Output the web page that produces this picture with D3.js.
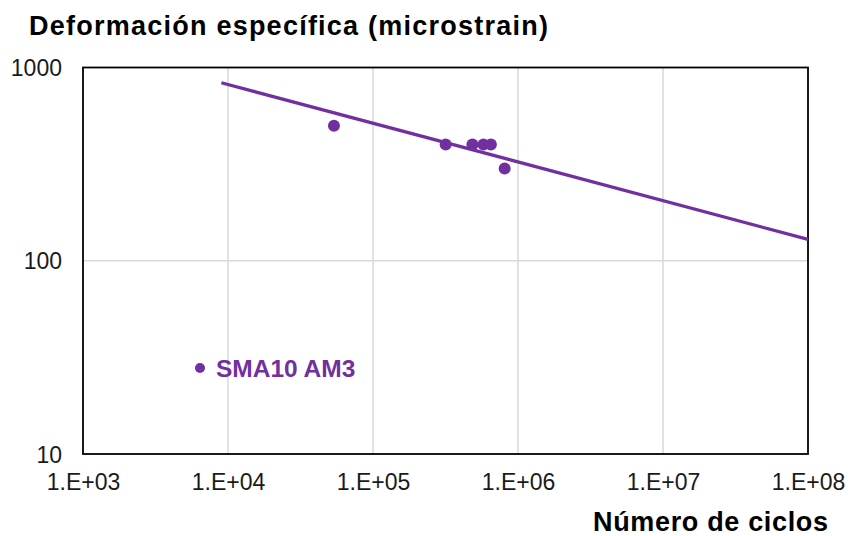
<!DOCTYPE html>
<html><head><meta charset="utf-8">
<script src="https://cdn.jsdelivr.net/npm/d3@7"></script>
<style>
html,body{margin:0;padding:0;background:#fff;}
svg{display:block;font-family:"Liberation Sans",Arial,sans-serif;}
</style></head>
<body>
<svg id="chart" width="848" height="536"></svg>
<script>
// ---- data ----
const cycles = [53800, 317000, 485000, 578000, 650000, 809000];
const strain = [500, 400, 400, 400, 400, 300];
const trendCycles = [9000, 1e8];
const trendStrain = [834, 129];
const xTickValues = [1e3, 1e4, 1e5, 1e6, 1e7, 1e8];
const xTickLabels = ["1.E+03", "1.E+04", "1.E+05", "1.E+06", "1.E+07", "1.E+08"];
const yTickValues = [10, 100, 1000];
const yTickLabels = ["10", "100", "1000"];
const seriesName = "SMA10 AM3";
const titleText = "Deformación específica (microstrain)";
const xTitleText = "Número de ciclos";

const purple = "#7030A0";
const svg = d3.select("#chart");
const L = 83, R = 808, T = 67.5, B = 454;
const x = d3.scaleLog().domain([1e3, 1e8]).range([L, R]);
const y = d3.scaleLog().domain([10, 1000]).range([B, T]);

// grid
const g = svg.append("g");
g.selectAll("line.vg").data(xTickValues.slice(1, -1)).join("line")
  .attr("x1", d => x(d)).attr("x2", d => x(d)).attr("y1", T).attr("y2", B)
  .attr("stroke", "#d9d9d9").attr("stroke-width", 1.5);
g.selectAll("line.hg").data(yTickValues.slice(1, -1)).join("line")
  .attr("y1", d => y(d)).attr("y2", d => y(d)).attr("x1", L).attr("x2", R)
  .attr("stroke", "#d9d9d9").attr("stroke-width", 1.5);

// axes (labels only)
const xAxis = d3.axisBottom(x).tickValues(xTickValues)
  .tickFormat((d, i) => xTickLabels[i]).tickSize(0).tickPadding(0);
const xa = svg.append("g").attr("transform", `translate(0,${B})`).call(xAxis);
xa.select(".domain").remove();
xa.selectAll("text").attr("font-size", 23).attr("fill", "#1a1a1a")
  .attr("font-family", '"Liberation Sans",Arial,sans-serif')
  .attr("dy", null).attr("y", 36);

const yAxis = d3.axisLeft(y).tickValues(yTickValues)
  .tickFormat((d, i) => yTickLabels[i]).tickSize(0).tickPadding(0);
const ya = svg.append("g").attr("transform", `translate(${L},0)`).call(yAxis);
ya.select(".domain").remove();
ya.selectAll("text").attr("font-size", 23).attr("fill", "#1a1a1a")
  .attr("font-family", '"Liberation Sans",Arial,sans-serif')
  .attr("x", -21).attr("dy", "0.35em");

// frame
svg.append("rect").attr("x", L).attr("y", T).attr("width", R - L).attr("height", B - T)
  .attr("fill", "none").attr("stroke", "#000").attr("stroke-width", 1.8);

// trend line
const line = d3.line().x(d => x(d[0])).y(d => y(d[1]));
svg.append("path").datum(d3.zip(trendCycles, trendStrain)).attr("d", line)
  .attr("fill", "none").attr("stroke", purple).attr("stroke-width", 3.3);

// points
svg.selectAll("circle.pt").data(d3.zip(cycles, strain)).join("circle")
  .attr("cx", d => x(d[0])).attr("cy", d => y(d[1])).attr("r", 6).attr("fill", purple);

// legend
svg.append("circle").attr("cx", 200).attr("cy", 368).attr("r", 5).attr("fill", purple);
svg.append("text").attr("x", 216).attr("y", 377).text(seriesName)
  .attr("font-size", 24.5).attr("font-weight", "bold").attr("fill", purple);

// titles
svg.append("text").attr("x", 29).attr("y", 35).text(titleText)
  .attr("font-size", 27).attr("font-weight", "bold").attr("fill", "#000")
  .attr("textLength", 519).attr("lengthAdjust", "spacing");
svg.append("text").attr("x", 593).attr("y", 531).text(xTitleText)
  .attr("font-size", 27).attr("font-weight", "bold").attr("fill", "#000")
  .attr("textLength", 235).attr("lengthAdjust", "spacing");
</script>
</body></html>
